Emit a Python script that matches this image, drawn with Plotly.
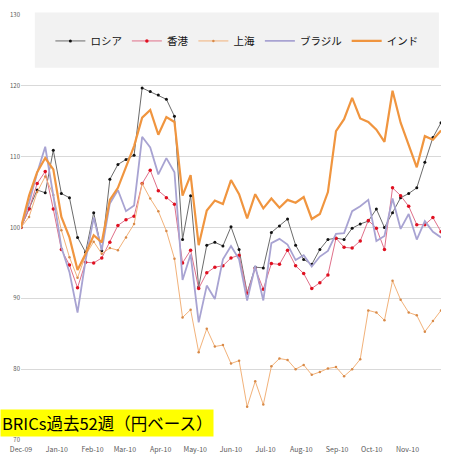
import pandas as pd
import plotly.graph_objects as go

dates = pd.date_range("2009-12-04", periods=53, freq="7D")

russia = [100, 102.7, 105.3, 104.9, 110.9, 104.8, 104.2, 98.6, 96.5, 102.1, 96.7, 106.8, 108.9, 109.6, 110.2,
          119.7, 119.2, 118.7, 118.1, 115.7, 98.3, 104.5, 91.6, 97.5, 97.9, 97.4, 100.1, 96.9, 90.8, 94.4,
          94.3, 99.3, 100.2, 101.2, 97.5, 95.5, 94.8, 96.9, 98.3, 98.5, 98.3, 99.9, 100.5, 100.9, 102.6,
          100.0, 102.1, 104.2, 104.8, 105.6, 109.2, 112.7, 114.8]
hongkong = [100, 102.6, 106.2, 107.9, 102.6, 96.9, 94.7, 91.5, 95.1, 95.0, 95.7, 97.9, 100.3, 101.1, 101.6,
            106.2, 108.1, 105.2, 104.2, 103.3, 95.0, 96.8, 91.4, 93.6, 94.4, 94.6, 95.7, 96.1, 90.7, 94.2,
            91.3, 94.9, 94.8, 96.8, 94.6, 93.5, 91.4, 92.2, 93.3, 98.5, 97.2, 97.1, 98.1, 101.0, 99.9,
            96.9, 105.6, 104.5, 103.0, 100.4, 100.4, 101.4, 99.4]
shanghai = [100, 101.5, 105.0, 107.2, 104.6, 99.6, 95.8, 92.9, 96.1, 98.0, 96.3, 97.1, 96.8, 98.6, 100.5,
            106.2, 104.1, 102.3, 99.5, 95.6, 87.3, 88.4, 82.4, 85.7, 83.2, 83.4, 80.8, 81.2, 74.7, 78.3,
            75.0, 80.4, 81.5, 81.3, 80.0, 80.6, 79.2, 79.6, 80.1, 80.3, 79.0, 80.0, 81.4, 88.3, 88.0,
            86.9, 92.5, 89.8, 88.0, 87.6, 85.3, 86.8, 88.3]
brazil = [100, 103.5, 107.7, 111.4, 104.5, 97.2, 93.7, 88.0, 95.4, 101.4, 96.8, 103.4, 105.3, 102.3, 103.1,
          112.8, 111.3, 107.5, 109.8, 107.8, 92.6, 96.2, 86.6, 91.8, 89.9, 95.5, 97.4, 95.5, 89.7, 94.6,
          89.7, 97.8, 98.4, 97.6, 95.4, 96.1, 94.5, 95.9, 96.7, 99.1, 99.2, 102.3, 103.0, 103.9, 98.1,
          98.8, 104.1, 99.8, 101.9, 98.3, 100.9, 99.4, 98.6]
india = [100, 104.5, 107.8, 109.8, 108.2, 101.5, 98.6, 94.0, 96.3, 98.9, 97.9, 103.9, 105.6, 108.5, 111.5,
         115.5, 116.6, 113.1, 115.6, 114.9, 104.5, 107.4, 97.5, 102.4, 103.8, 103.3, 106.7, 104.7, 101.3, 104.7,
         102.7, 104.1, 102.8, 103.9, 103.5, 104.3, 101.2, 101.9, 105.0, 113.6, 115.3, 118.3, 115.4, 114.9, 113.8,
         112.1, 119.3, 114.8, 111.6, 108.5, 112.9, 112.4, 113.7]

names = ["ロシア", "香港", "上海", "ブラジル", "インド"]
y_ticks = [70, 80, 90, 100, 110, 120, 130]
title_text = "BRICs過去52週（円ベース）"

fig = go.Figure()
fig.add_trace(go.Scatter(x=dates, y=russia, name=names[0], mode="lines+markers",
                         line=dict(color="#6b6b6b", width=1),
                         marker=dict(color="#111111", size=3)))
fig.add_trace(go.Scatter(x=dates, y=hongkong, name=names[1], mode="lines+markers",
                         line=dict(color="#e0708a", width=1),
                         marker=dict(color="#e01020", size=3.5)))
fig.add_trace(go.Scatter(x=dates, y=shanghai, name=names[2], mode="lines+markers",
                         line=dict(color="#f2b27a", width=1),
                         marker=dict(color="#d88a48", size=2.5)))
fig.add_trace(go.Scatter(x=dates, y=brazil, name=names[3], mode="lines",
                         line=dict(color="#a8a3d2", width=1.8)))
fig.add_trace(go.Scatter(x=dates, y=india, name=names[4], mode="lines",
                         line=dict(color="#f0953f", width=2.2)))

fig.update_layout(
    width=450, height=463,
    margin=dict(l=21, r=9, t=15, b=21),
    paper_bgcolor="white", plot_bgcolor="white",
    font=dict(family="Noto Sans CJK JP, Noto Sans, sans-serif", color="#222222"),
    showlegend=True,
    legend=dict(orientation="h", x=0.514, xanchor="center", y=0.939, yanchor="middle",
                bgcolor="rgba(0,0,0,0)", font=dict(size=10.5, color="#111111")),
    shapes=[dict(type="rect", xref="paper", yref="paper", x0=0.033, x1=0.995, y0=0.876, y1=1.006,
                 fillcolor="#f2f2f2", line=dict(width=0), layer="above")],
    annotations=[dict(text=title_text, xref="paper", yref="paper", x=-0.05, y=0.040,
                      xanchor="left", yanchor="middle", showarrow=False,
                      bgcolor="#ffff00", borderpad=1,
                      font=dict(size=16.5, color="#000000", family="Noto Sans CJK JP"))],
)
fig.update_xaxes(type="date", range=[dates[0], dates[-1]], tick0=dates[0], dtick="M1",
                 tickformat="%b-%y", tickfont=dict(size=7, color="#595959"),
                 ticklabelstandoff=4,
                 showgrid=False, showline=False, zeroline=False, ticks="")
fig.update_yaxes(range=[70, 130], tickvals=y_ticks, tickfont=dict(size=6, color="#595959"),
                 showgrid=True, gridcolor="#d9d9d9", gridwidth=1, zeroline=False, showline=False,
                 ticks="")

fig.write_html("out.html")
